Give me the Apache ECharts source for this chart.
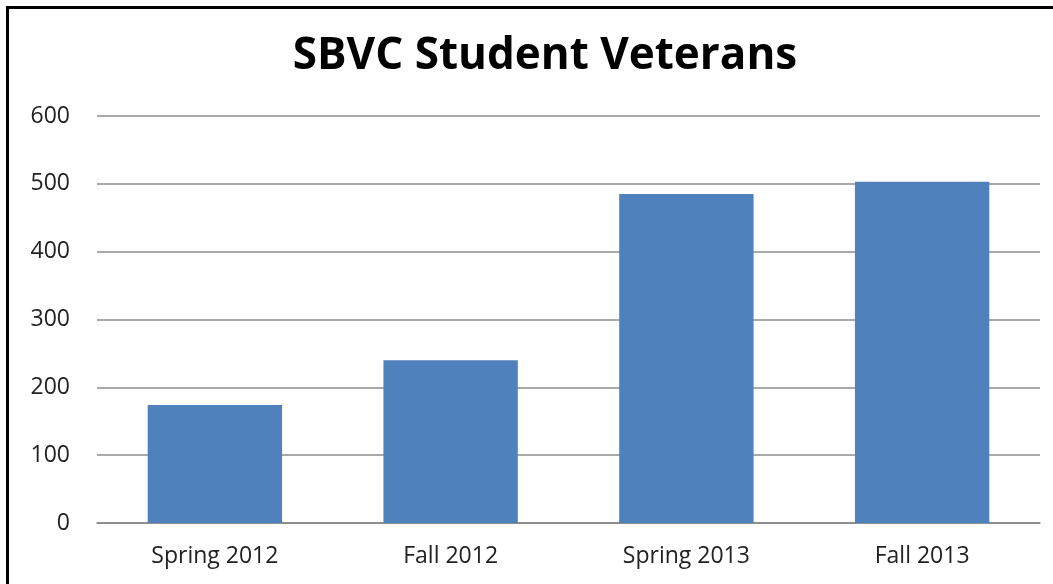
<!DOCTYPE html>
<html>
<head>
<meta charset="utf-8">
<script src="https://cdn.jsdelivr.net/npm/echarts@6/dist/echarts.min.js"></script>
<style>
  html, body { margin: 0; padding: 0; background: #fff; }
  #frame {
    position: absolute; left: 6px; top: 6px; width: 1060px; height: 600px;
    border-left: 3px solid #000; border-top: 3px solid #000;
  }
  #chart { position: absolute; left: 0; top: 0; width: 1053px; height: 584px; }
</style>
</head>
<body>
<div id="frame"></div>
<div id="chart"></div>
<script>
// data
const categories = ['Spring 2012', 'Fall 2012', 'Spring 2013', 'Fall 2013']
const veterans = [174, 240, 485, 503]
const titleText = 'SBVC Student Veterans'

const chart = echarts.init(document.getElementById('chart'))

const option = {
  animation: false,
  title: {
    text: titleText,
    left: 540,
    top: 29,
    textAlign: 'center',
    textStyle: {
      fontFamily: 'Open Sans',
      fontWeight: 'bold',
      fontSize: 44,
      color: '#000'
    }
  },
  grid: {
    left: 97,
    right: 13,
    top: 116,
    bottom: 61
  },
  xAxis: {
    type: 'category',
    data: categories,
    axisTick: { show: false },
    axisLine: { lineStyle: { color: '#868686', width: 1.5 } },
    axisLabel: {
      fontFamily: 'Open Sans',
      fontSize: 23,
      color: '#222',
      margin: 22
    }
  },
  yAxis: {
    type: 'value',
    min: 0,
    max: 600,
    interval: 100,
    axisLine: { show: false },
    axisTick: { show: false },
    axisLabel: {
      fontFamily: 'Open Sans',
      fontSize: 23,
      color: '#222',
      margin: 27
    },
    splitLine: { lineStyle: { color: '#8c8c8c', width: 1.5 } }
  },
  series: [
    {
      type: 'bar',
      data: veterans,
      barWidth: '57%',
      itemStyle: { color: '#4F81BD' }
    }
  ]
}

chart.setOption(option)
</script>
</body>
</html>
